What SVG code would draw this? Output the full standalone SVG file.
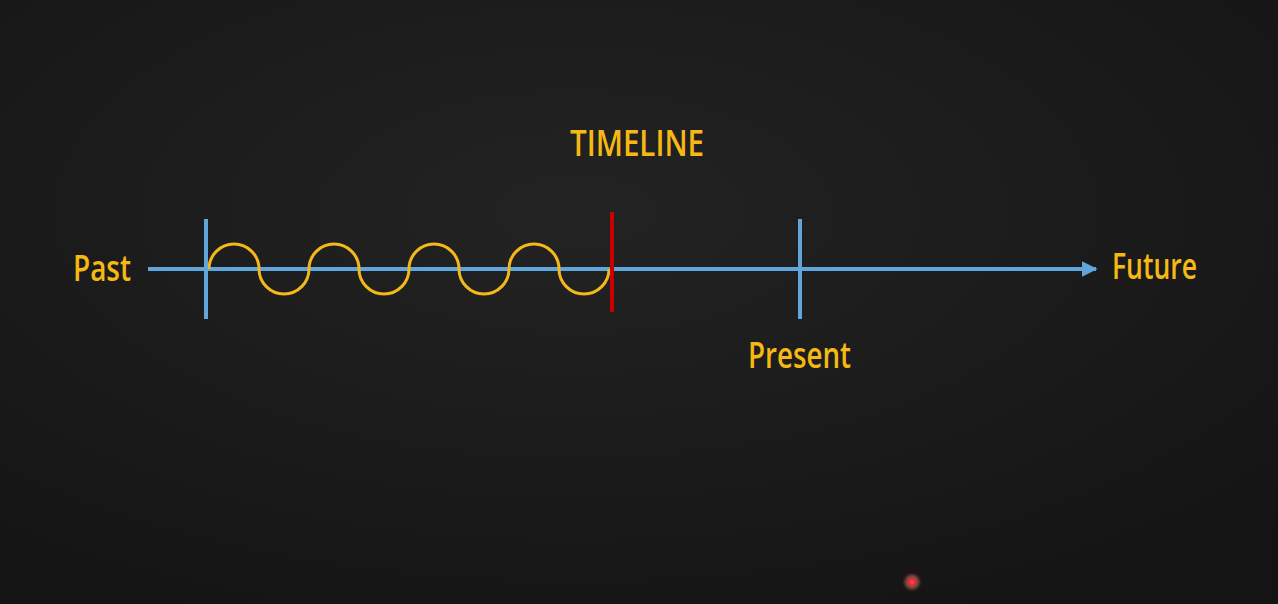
<svg xmlns="http://www.w3.org/2000/svg" width="1278" height="604" viewBox="0 0 1278 604">
<defs>
<radialGradient id="bg" cx="45%" cy="35%" r="75%">
<stop offset="0" stop-color="#232323"/>
<stop offset="1" stop-color="#141414"/>
</radialGradient>
<radialGradient id="laser" cx="50%" cy="50%" r="50%">
<stop offset="0" stop-color="#ff2a2a"/>
<stop offset="0.3" stop-color="#e03030"/>
<stop offset="0.6" stop-color="#b06060" stop-opacity="0.6"/>
<stop offset="1" stop-color="#803030" stop-opacity="0"/>
</radialGradient>
<marker id="arrow" viewBox="0 0 10 10" refX="9" refY="5" markerWidth="4" markerHeight="4" markerUnits="strokeWidth" orient="auto">
<path d="M0,0 L10,5 L0,10 z" fill="#5ea6dc"/>
</marker>
</defs>
<style>
.lbl{font-family:"Comic Sans MS","Open Sans","Liberation Sans",sans-serif;fill:#f6b914;font-size:36px;font-weight:600;}
.blue{stroke:#5ea6dc;stroke-width:4;fill:none;}
.wave{stroke:#f4b81a;stroke-width:3;fill:none;}
</style>
<rect width="1278" height="604" fill="url(#bg)"/>
<g id="connectors">
<line class="blue" x1="148" y1="269" x2="1096" y2="269" marker-end="url(#arrow)"/>
<path class="wave" d="M209,269 a25,25 0 0 1 50,0 a25,25 0 0 0 50,0 a25,25 0 0 1 50,0 a25,25 0 0 0 50,0 a25,25 0 0 1 50,0 a25,25 0 0 0 50,0 a25,25 0 0 1 50,0 a25,25 0 0 0 50,0"/>
</g>
<g id="title"><text class="lbl" x="570" y="156" textLength="134" lengthAdjust="spacingAndGlyphs">TIMELINE</text></g>
<g id="past"><text class="lbl" x="73" y="281" textLength="58" lengthAdjust="spacingAndGlyphs">Past</text></g>
<g id="future"><text class="lbl" x="1112" y="279" textLength="85" lengthAdjust="spacingAndGlyphs">Future</text></g>
<g id="start-tick"><line class="blue" x1="206" y1="219" x2="206" y2="319"/></g>
<g id="now-tick"><line x1="612" y1="212" x2="612" y2="312" stroke="#c80000" stroke-width="4"/></g>
<g id="present"><line class="blue" x1="800" y1="219" x2="800" y2="319"/>
<text class="lbl" x="748" y="368" textLength="103" lengthAdjust="spacingAndGlyphs">Present</text></g>
<g id="laser-dot"><circle cx="912" cy="582" r="10" fill="url(#laser)"/><circle cx="912" cy="582" r="2" fill="#ff4040"/></g>
</svg>
